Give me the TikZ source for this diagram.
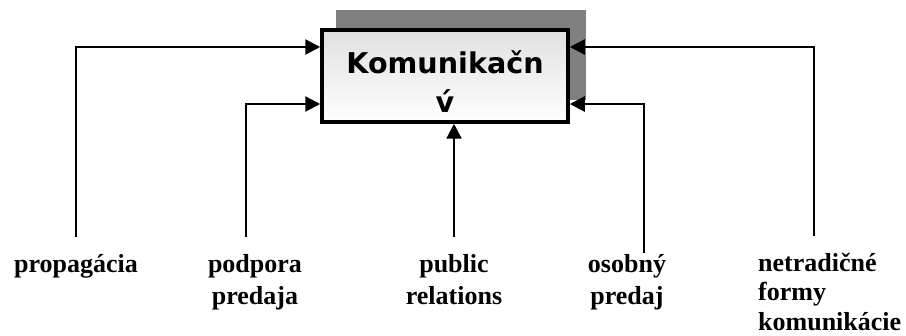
\documentclass[tikz,border=0pt]{standalone}
\usepackage{fontspec}
\setmainfont{Liberation Serif}
\newfontfamily\boxfont{DejaVu Sans}
\usetikzlibrary{arrows.meta}

\begin{document}
\begin{tikzpicture}[x=1pt,y=-1pt,
    arr/.style={-{Triangle[length=15pt,width=15pt]}, line width=2.2pt},
    lbl/.style={font=\bfseries\fontsize{26}{32}\selectfont, inner sep=0pt,
                outer ysep=17pt, anchor=north, align=center}]
  \useasboundingbox (0,0) rectangle (906,336);

  % tien a box
  \fill[black!50] (336,10) rectangle (586,100);
  \node[draw, line width=3.5pt, top color=black!12, bottom color=white,
        minimum width=246pt, minimum height=92pt] (box) at (445,76) {};
  \node[align=center, inner sep=0pt,
        font=\boxfont\bfseries\fontsize{28.6}{39}\selectfont] (title)
        at ([yshift=-6pt]box.center) {Komunikačn\\v́};

  % body na okraji boxu
  \coordinate (inL1) at (box.west |- 0,47);
  \coordinate (inL2) at (box.west |- 0,104);
  \coordinate (inR1) at (box.east |- 0,47);
  \coordinate (inR2) at (box.east |- 0,104);

  % popisy
  \node[lbl] (prop) at (76,237) {propagácia};
  \node[lbl] (podp) at (255,237) {podpora\\predaja};
  \node[lbl] (pub) at (454,237) {public\\relations};
  \node[lbl, outer ysep=1pt] (osob) at (627,253) {osobný\\predaj};
  \node[lbl, align=left, anchor=north west,
        font=\bfseries\fontsize{26}{29.5}\selectfont] (netr) at (758,236)
        {netradičné\\formy\\komunikácie};

  % spojnice
  \draw[arr] (prop.north) |- (inL1);
  \draw[arr] ([xshift=-9pt]podp.north) |- (inL2);
  \draw[arr] (pub.north) -- (pub.north |- box.south);
  \draw[arr] ([xshift=17pt]osob.north) |- (inR2);
  \draw[arr] ([xshift=56pt]netr.north west) |- (inR1);
\end{tikzpicture}
\end{document}
